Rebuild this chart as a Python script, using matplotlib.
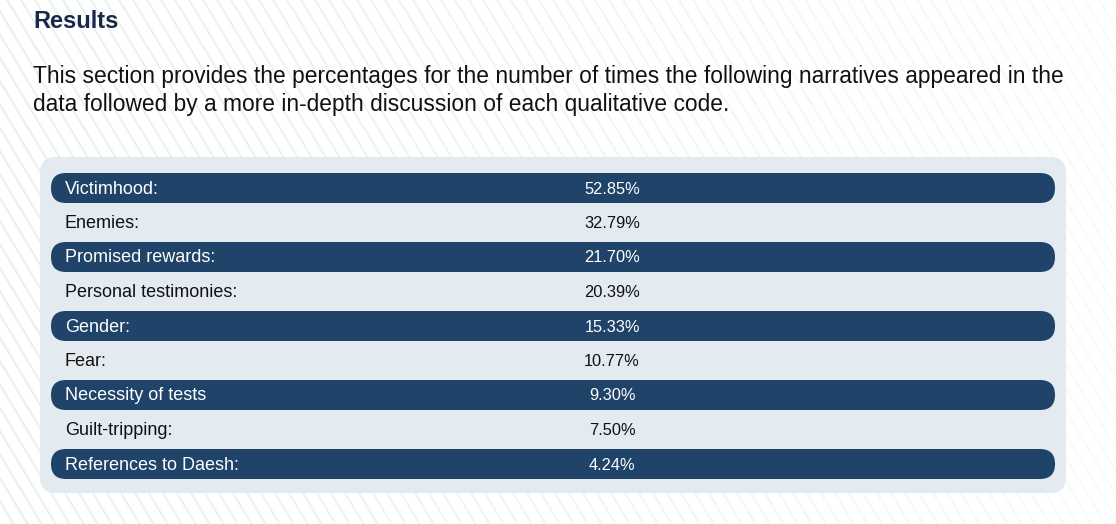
"""Results table: share of narratives found in the data."""

import matplotlib

matplotlib.use("Agg")

import matplotlib.pyplot as plt
import numpy as np
from matplotlib.patches import FancyBboxPatch

narratives = [
    "Victimhood:",
    "Enemies:",
    "Promised rewards:",
    "Personal testimonies:",
    "Gender:",
    "Fear:",
    "Necessity of tests",
    "Guilt-tripping:",
    "References to Daesh:",
]
percentages = [52.85, 32.79, 21.70, 20.39, 15.33, 10.77, 9.30, 7.50, 4.24]

title = "Results"
intro_lines = [
    "This section provides the percentages for the number of times the following narratives appeared in the",
    "data followed by a more in-depth discussion of each qualitative code.",
]

W, H = 1116, 524
NAVY = "#1f4369"
PANEL = "#e3eaf0"
TITLE_COLOR = "#1a2849"
TEXT_COLOR = "#111111"

plt.rcParams["font.family"] = ["Liberation Sans", "DejaVu Sans"]

fig = plt.figure(figsize=(W / 100, H / 100), dpi=100)
ax = fig.add_axes([0, 0, 1, 1])
ax.set_xlim(0, W)
ax.set_ylim(H, 0)
ax.axis("off")

# faint diagonal stripes in the page background, fading to the right
yy, xx = np.mgrid[0:H, 0:W]
phase = np.mod(xx - 0.6 * yy, 14.0) / 14.0
stripe = np.clip(1.0 - np.abs(phase - 0.5) * 7.0, 0, 1)
fade = 0.3 + 0.7 * (1.0 - xx / W)
shade = 1.0 - 0.08 * stripe * fade
bg = np.dstack([shade * 0.99 + 0.01 * 0.9, shade, shade * 0.995 + 0.005])
ax.imshow(np.clip(bg, 0, 1), extent=(0, W, H, 0), zorder=0, aspect="auto")

ax.text(33, 21, title, fontsize=17, fontweight="bold", color=TITLE_COLOR,
        va="center", ha="left")
for i, line in enumerate(intro_lines):
    ax.text(33, 76 + 29 * i, line, fontsize=16.4, color=TEXT_COLOR,
            va="center", ha="left")

# table panel
ax.add_patch(FancyBboxPatch((40, 157), 1026, 336,
                            boxstyle="round,pad=0,rounding_size=16",
                            facecolor=PANEL, edgecolor="none", zorder=1))

row_top, row_pitch, row_h = 173, 34.5, 30
for i, (name, pct) in enumerate(zip(narratives, percentages)):
    y0 = row_top + i * row_pitch
    yc = y0 + row_h / 2 + 1
    dark = i % 2 == 0
    if dark:
        ax.add_patch(FancyBboxPatch((51, y0), 1004, row_h,
                                    boxstyle="round,pad=0,rounding_size=15",
                                    facecolor=NAVY, edgecolor="none", zorder=2))
    color = "white" if dark else TEXT_COLOR
    ax.text(65, yc, name, fontsize=13, color=color, va="center", ha="left", zorder=3)
    ax.text(612, yc, f"{pct:.2f}%", fontsize=11.8, color=color,
            va="center", ha="center", zorder=3)

fig.savefig("out.png", dpi=100)
